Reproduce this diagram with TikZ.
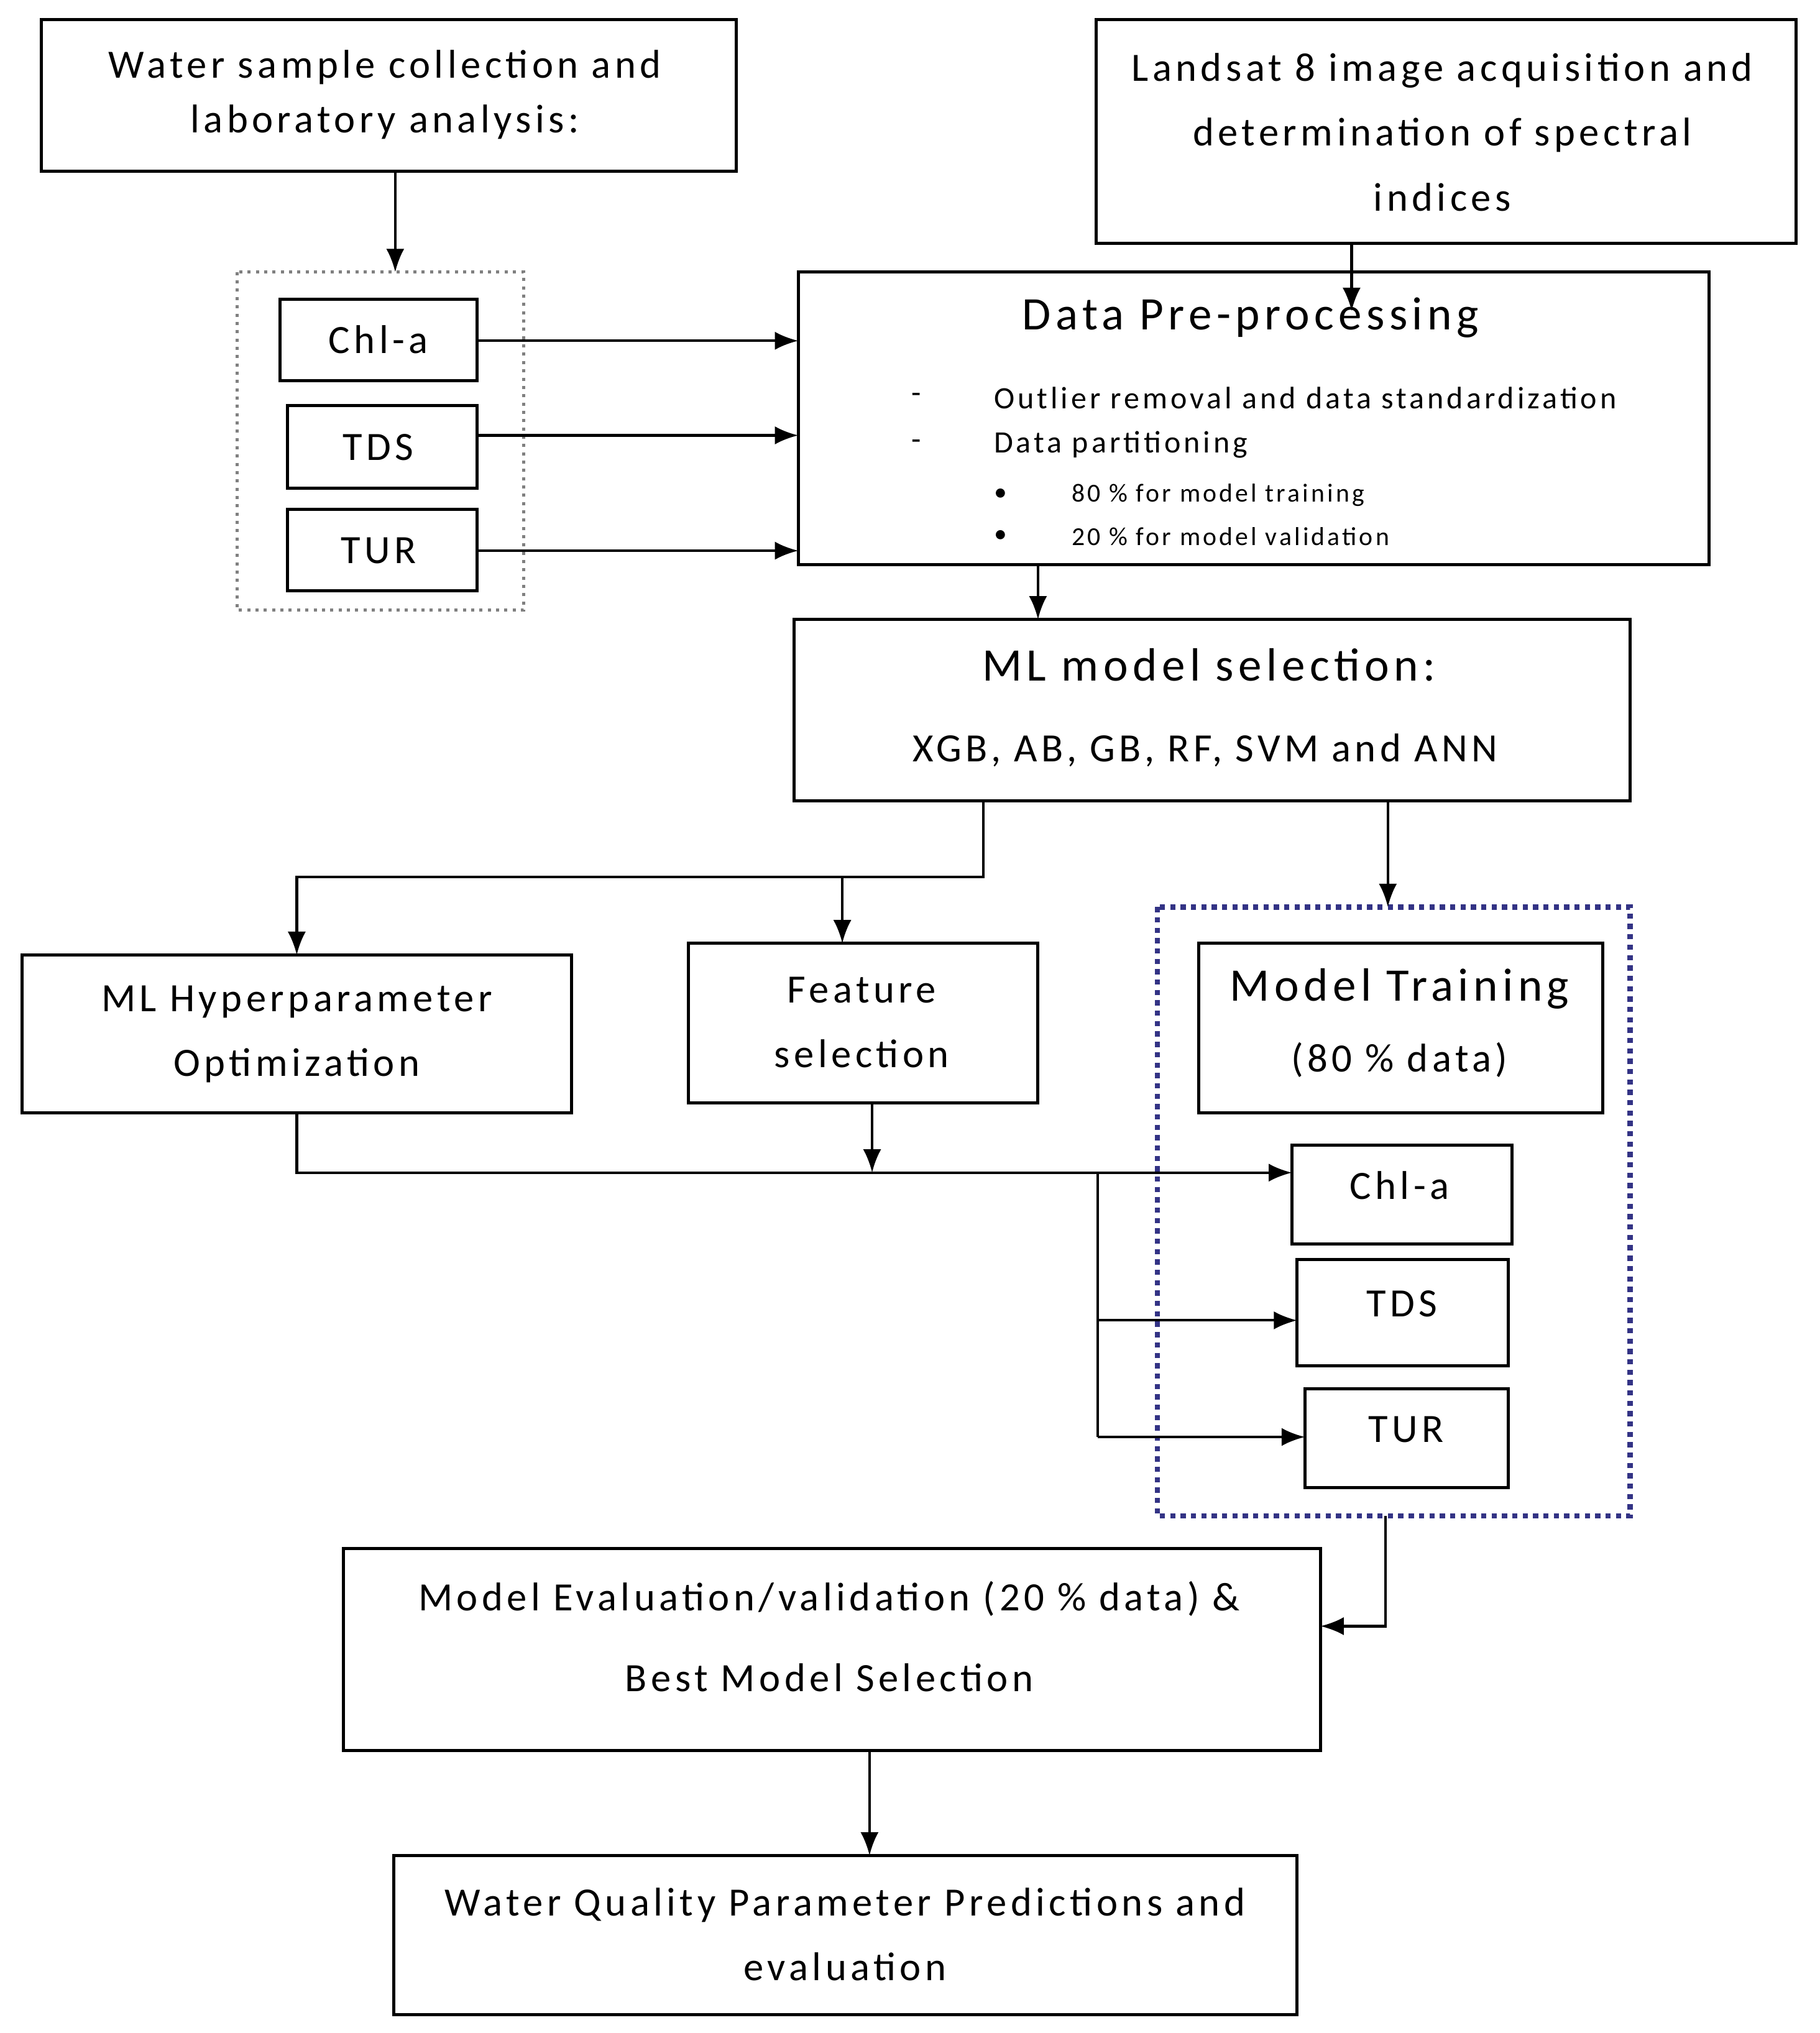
\documentclass[tikz,border=0pt]{standalone}
\usepackage{fontspec}
\setmainfont{Carlito}[LetterSpace=10]
\usetikzlibrary{arrows.meta}
\begin{document}
\begin{tikzpicture}[x=0.5pt,y=-0.5pt,
  box/.style={draw,line width=1.2pt},
  arr/.style={-{Latex[length=9pt,width=7pt]},line width=1pt},
  ln/.style={line width=1pt},
  t/.style={font=\fontsize{15.5}{21}\selectfont,align=center}]
\useasboundingbox (0,0) rectangle (1404,1569);
% boxes
\draw[box] (32,15) rectangle (568,132); \node[t] (w1) at (297,73) {Water sample collection and\\laboratory analysis:};
\coordinate (w1b) at (305,132);
\draw[box] (846,15) rectangle (1386,188); \node[t,font=\fontsize{15.5}{25}\selectfont] (l8) at (1113,102) {Landsat 8 image acquisition and\\determination of spectral\\indices};
\coordinate (l8b) at (1043,188);
\draw[gray,dotted,line width=1.2pt] (183,210) rectangle (404,471);
\coordinate (grpt) at (305,210);
\draw[box] (216,231) rectangle (368,294); \node[t] (c1) at (292,262) {Chl-a};
\draw[box] (222,313) rectangle (368,377); \node[t] (d1) at (292,345) {TDS};
\draw[box] (222,393) rectangle (368,456); \node[t] (r1) at (292,425) {TUR};
\draw[box] (616,210) rectangle (1319,436);
\node[font=\fontsize{18}{20}\selectfont] (dp) at (965,245) {Data Pre-processing};
\node[font=\fontsize{12}{14}\selectfont] at (707,307) {-};
\node[font=\fontsize{12}{14}\selectfont,anchor=west] at (760,307) {Outlier removal and data standardization};
\node[font=\fontsize{12}{14}\selectfont] at (707,343) {-};
\node[font=\fontsize{12}{14}\selectfont,anchor=west] at (760,343) {Data partitioning};
\node[font=\fontsize{10}{12}\selectfont] at (772,382) {\textbullet};
\node[font=\fontsize{10}{12}\selectfont,anchor=west] at (820,382) {80 \% for model training};
\node[font=\fontsize{10}{12}\selectfont] at (772,414) {\textbullet};
\node[font=\fontsize{10}{12}\selectfont,anchor=west] at (820,414) {20 \% for model validation};
\draw[box] (613,478) rectangle (1258,618);
\node[font=\fontsize{18}{20}\selectfont] (ml) at (933,513) {ML model selection:};
\node[t] at (930,579) {XGB, AB, GB, RF, SVM and ANN};
\draw[box] (17,737) rectangle (441,859); \node[t,font=\fontsize{15.5}{25}\selectfont] (hp) at (229,798) {ML Hyperparameter\\Optimization};
\draw[box] (531,728) rectangle (801,851); \node[t,font=\fontsize{15.5}{25}\selectfont] (fs) at (665,789) {Feature\\selection};
\draw[blue!40!black!80,dotted,line width=2pt] (893,700) rectangle (1258,1170);
\draw[box] (925,728) rectangle (1237,859);
\node[font=\fontsize{18}{20}\selectfont] (mt) at (1080,763) {Model Training};
\node[t] at (1080,818) {(80 \% data)};
\draw[box] (997,884) rectangle (1167,960); \node[t] (c2) at (1080,915) {Chl-a};
\draw[box] (1001,972) rectangle (1164,1054); \node[t] (d2) at (1082,1006) {TDS};
\draw[box] (1007,1072) rectangle (1164,1148); \node[t] (r2) at (1085,1103) {TUR};
\draw[box] (265,1195) rectangle (1019,1351); \node[t,font=\fontsize{15.5}{31}\selectfont] (ev) at (640,1263) {Model Evaluation/validation (20 \% data) \&\\Best Model Selection};
\draw[box] (304,1432) rectangle (1001,1555); \node[t,font=\fontsize{15.5}{25}\selectfont] (fp) at (652,1493) {Water Quality Parameter Predictions and\\evaluation};
% connectors
\draw[arr] (w1b) -- (grpt);
\draw[arr] (368,263) -- (616,263);
\draw[arr] (368,336) -- (616,336);
\draw[arr] (368,425) -- (616,425);
\draw[arr] (l8b) -- (1043,240);
\draw[arr] (801,436) -- (801,478);
\draw[arr] (759,618) -- (759,677) -- (229,677) -- (229,737);
\draw[arr] (650,677) -- (650,728);
\draw[arr] (1071,618) -- (1071,700);
\draw[arr] (229,859) -- (229,905) -- (997,905);
\draw[arr] (673,851) -- (673,905);
\draw[ln] (847,905) -- (847,1109);
\draw[arr] (847,1019) -- (1001,1019);
\draw[arr] (847,1109) -- (1007,1109);
\draw[arr] (1069,1170) -- (1069,1255) -- (1019,1255);
\draw[arr] (671,1351) -- (671,1432);
\end{tikzpicture}
\end{document}
